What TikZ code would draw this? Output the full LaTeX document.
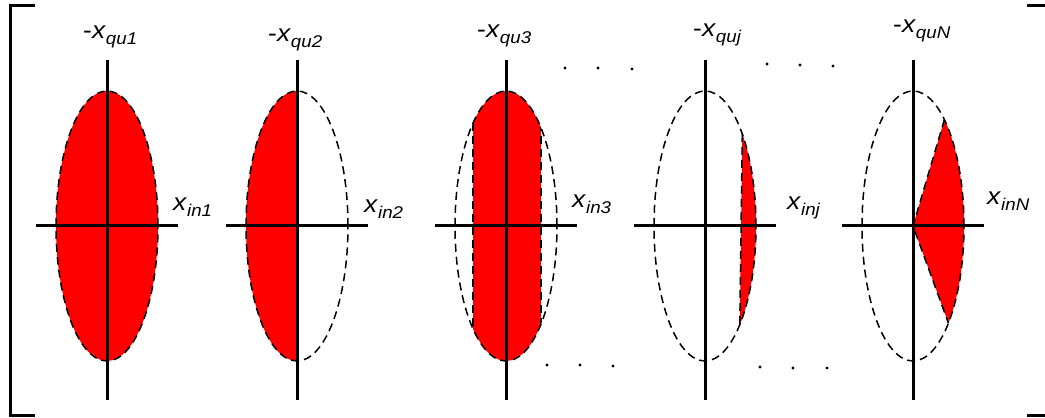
\documentclass[tikz,border=0pt]{standalone}
\usepackage{fontspec}
\setmainfont{Liberation Sans}
\tikzset{
  ax line/.style={line width=3pt, draw=black},
  ell border/.style={draw=black, line width=1.5pt, dash pattern=on 8pt off 5pt},
  ell fill/.style={fill=red},
  ax label/.style={
    inner sep=0pt, anchor=base west, xscale=1.1,
    font=\fontsize{24}{28}\selectfont
  },
  bracket line/.style={line width=3pt, draw=black}
}
\newcommand{\xlab}[2]{#1\textit{x}\raisebox{-6pt}{\fontsize{17}{20}\selectfont\textit{#2}}}

\begin{document}
\begin{tikzpicture}[x=1pt, y=1pt]
  \useasboundingbox (0,0) rectangle (1045,418);
  % Brackets
  \draw [bracket line] (35,412) -- (10,412) -- (10,2) -- (35,2);
  \draw [bracket line] (1027,412) -- (1045,412);
  \draw [bracket line] (1027,2) -- (1045,2);
  % Red regions
  \fill [ell fill] (107,192) ellipse [x radius=51, y radius=135];
  \fill [ell fill] (297,327) arc [start angle=90, end angle=270, x radius=51, y radius=135] -- cycle;
  \begin{scope}
    \clip (506,192) ellipse [x radius=51, y radius=135];
    \fill [ell fill] (473,40) rectangle (541,350);
    \draw [ell border] (473,40) -- (473,350);
    \draw [ell border] (541,40) -- (541,350);
  \end{scope}
  \fill [ell fill] ([shift={(705,192)}]43:51 and 135) coordinate (cj1)
    arc [start angle=43, end angle=-47, x radius=51, y radius=135] coordinate (cj2) -- cycle;
  \draw [ell border] (cj1) -- (cj2);
  \coordinate (oN) at (913,192);
  \fill [ell fill] (oN) -- ([shift={(913,192)}]52:51 and 135) coordinate (cN1)
    arc [start angle=52, end angle=-46, x radius=51, y radius=135] coordinate (cN2) -- cycle;
  \draw [ell border] (cN1) -- (oN) -- (cN2);
  % Dashed ellipses
  \draw [ell border] (107,192) ellipse [x radius=51, y radius=135];
  \draw [ell border] (297,192) ellipse [x radius=51, y radius=135];
  \draw [ell border] (506,192) ellipse [x radius=51, y radius=135];
  \draw [ell border] (705,192) ellipse [x radius=51, y radius=135];
  \draw [ell border] (913,192) ellipse [x radius=51, y radius=135];
  % Axes
  \draw [ax line] (36,192) -- (178,192);
  \draw [ax line] (107,358) -- (107,18);
  \draw [ax line] (226,192) -- (368,192);
  \draw [ax line] (297,358) -- (297,18);
  \draw [ax line] (435,192) -- (577,192);
  \draw [ax line] (506,358) -- (506,18);
  \draw [ax line] (634,192) -- (776,192);
  \draw [ax line] (705,358) -- (705,18);
  \draw [ax line] (842,192) -- (984,192);
  \draw [ax line] (913,358) -- (913,18);
  % Dots
  \fill (565,350) circle [radius=1.6];
  \fill (598,350) circle [radius=1.6];
  \fill (632,349) circle [radius=1.6];
  \fill (547,53) circle [radius=1.6];
  \fill (580,53) circle [radius=1.6];
  \fill (613,52) circle [radius=1.6];
  \fill (767,354) circle [radius=1.6];
  \fill (800,353) circle [radius=1.6];
  \fill (833,352) circle [radius=1.6];
  \fill (760,51) circle [radius=1.6];
  \fill (793,50) circle [radius=1.6];
  \fill (827,50) circle [radius=1.6];
  % Labels
  \node (qu1) [ax label] at (83,379) {\xlab{-}{qu1}};
  \node (in1) [ax label] at (173,207) {\xlab{}{in1}};
  \node (qu2) [ax label] at (268,376) {\xlab{-}{qu2}};
  \node (in2) [ax label] at (364,205) {\xlab{}{in2}};
  \node (qu3) [ax label] at (477,380) {\xlab{-}{qu3}};
  \node (in3) [ax label] at (572,210) {\xlab{}{in3}};
  \node (quj) [ax label] at (693,381) {\xlab{-}{quj}};
  \node (inj) [ax label] at (787,208) {\xlab{}{inj}};
  \node (quN) [ax label] at (893,385) {\xlab{-}{quN}};
  \node (inN) [ax label] at (987,213) {\xlab{}{inN}};
\end{tikzpicture}
\end{document}
